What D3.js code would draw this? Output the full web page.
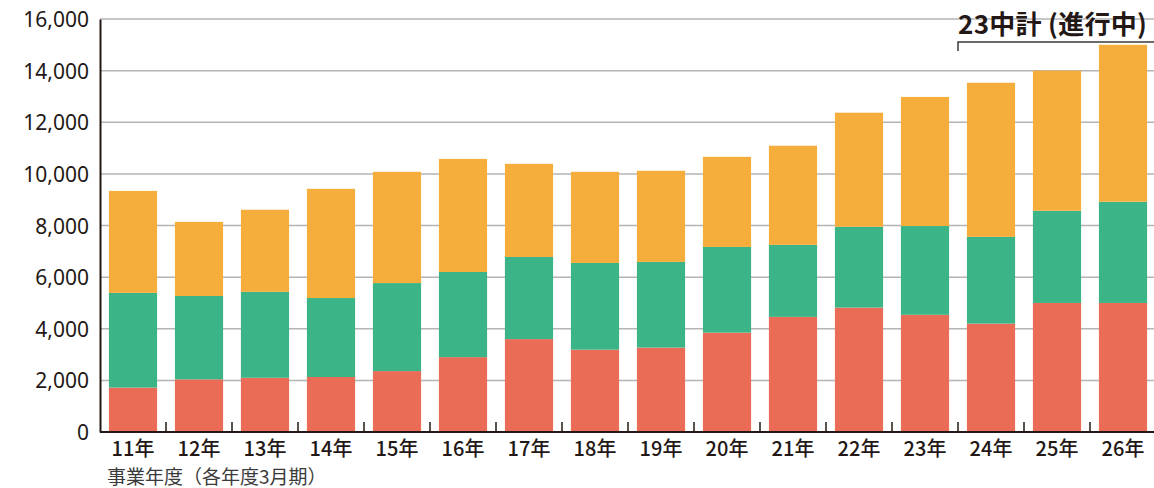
<!DOCTYPE html>
<html>
<head>
<meta charset="utf-8">
<script src="https://cdn.jsdelivr.net/npm/d3@7"></script>
<style>
  html, body { margin: 0; padding: 0; background: #fff; }
  svg text { fill: #231815; }
</style>
</head>
<body>
<svg id="chart" width="1154" height="488"></svg>
<script>
// chart data
const categories = ['11年', '12年', '13年', '14年', '15年', '16年', '17年', '18年',
                    '19年', '20年', '21年', '22年', '23年', '24年', '25年', '26年'];
const redValues    = [1720, 2040, 2100, 2130, 2360, 2900, 3600, 3190, 3270, 3850, 4460, 4820, 4540, 4200, 5000, 5000];
const greenValues  = [3670, 3230, 3330, 3060, 3410, 3300, 3180, 3360, 3320, 3320, 2790, 3130, 3440, 3360, 3570, 3920];
const orangeValues = [3950, 2870, 3180, 4230, 4310, 4380, 3610, 3530, 3530, 3490, 3840, 4420, 5000, 5970, 5430, 6080];
const yTicks = [0, 2000, 4000, 6000, 8000, 10000, 12000, 14000, 16000];
const seriesKeys = ['red', 'green', 'orange'];
const seriesColors = { red: '#ea6c57', green: '#3bb587', orange: '#f5ad3c' };
const xTitle = '事業年度（各年度3月期）';
const planLabel = '23中計 (進行中)';
const planStart = '24年';

const svg = d3.select('#chart');
const plotLeft = 100, plotRight = 1156, plotTop = 19, plotBottom = 432;

const rows = categories.map((c, i) => ({
  cat: c, red: redValues[i], green: greenValues[i], orange: orangeValues[i]
}));

const x = d3.scaleBand().domain(categories).range([plotLeft, plotRight])
  .paddingInner(0.27).paddingOuter(0.135);
const y = d3.scaleLinear().domain([0, 16000]).range([plotBottom, plotTop]);

// gridlines
svg.append('g')
  .selectAll('line')
  .data(yTicks.filter(d => d > 0))
  .enter()
  .append('line')
  .attr('x1', plotLeft).attr('x2', 1154)
  .attr('y1', d => y(d)).attr('y2', d => y(d))
  .attr('stroke', '#b4b4b4')
  .attr('stroke-width', 1.5);

// stacked bars
const stacked = d3.stack().keys(seriesKeys)(rows);
svg.append('g')
  .selectAll('g')
  .data(stacked)
  .enter()
  .append('g')
  .attr('fill', d => seriesColors[d.key])
  .selectAll('rect')
  .data(d => d)
  .enter()
  .append('rect')
  .attr('x', d => x(d.data.cat))
  .attr('width', x.bandwidth())
  .attr('y', d => y(d[1]))
  .attr('height', d => y(d[0]) - y(d[1]));

// y axis
const yAxis = svg.append('g')
  .attr('transform', `translate(${plotLeft},0)`)
  .call(d3.axisLeft(y).tickValues(yTicks).tickFormat(d3.format(',')).tickSize(0).tickPadding(11));
yAxis.select('.domain').attr('stroke', '#231815').attr('stroke-width', 2);
yAxis.selectAll('text')
  .attr('font-family', 'Noto Sans, sans-serif')
  .attr('font-size', 21)
  .attr('dy', '0.36em');

// x axis
const xAxis = svg.append('g')
  .attr('transform', `translate(0,${plotBottom})`)
  .call(d3.axisBottom(x).tickSize(0).tickPadding(7));
xAxis.select('.domain').attr('d', `M${plotLeft},0H${1154}`).attr('stroke', '#231815').attr('stroke-width', 2);
xAxis.selectAll('text')
  .attr('font-family', 'Noto Sans CJK JP, sans-serif')
  .attr('font-size', 20)
  .attr('font-weight', 500)
  .attr('dy', '0.85em');

// separator ticks between categories
const halfGap = x.step() * x.paddingInner() / 2;
svg.append('g')
  .selectAll('line')
  .data(categories.slice(1))
  .enter()
  .append('line')
  .attr('x1', d => x(d) - halfGap).attr('x2', d => x(d) - halfGap)
  .attr('y1', plotBottom).attr('y2', plotBottom - 10)
  .attr('stroke', '#231815')
  .attr('stroke-width', 1.5);

// x axis title
svg.append('text')
  .attr('x', 107).attr('y', 484)
  .attr('font-family', 'Noto Sans CJK JP, sans-serif')
  .attr('font-size', 19)
  .style('fill', '#3a3a3a')
  .text(xTitle);

// plan bracket and label
const bx = x(planStart) - halfGap;
svg.append('path')
  .attr('d', `M${bx},51V42H1154`)
  .attr('fill', 'none')
  .attr('stroke', '#3a3a3a')
  .attr('stroke-width', 1.5);
svg.append('text')
  .attr('x', bx).attr('y', 34)
  .attr('font-family', 'Noto Sans CJK JP, sans-serif')
  .attr('font-size', 26)
  .attr('font-weight', 700)
  .attr('letter-spacing', 0.3)
  .text(planLabel);
</script>
</body>
</html>
